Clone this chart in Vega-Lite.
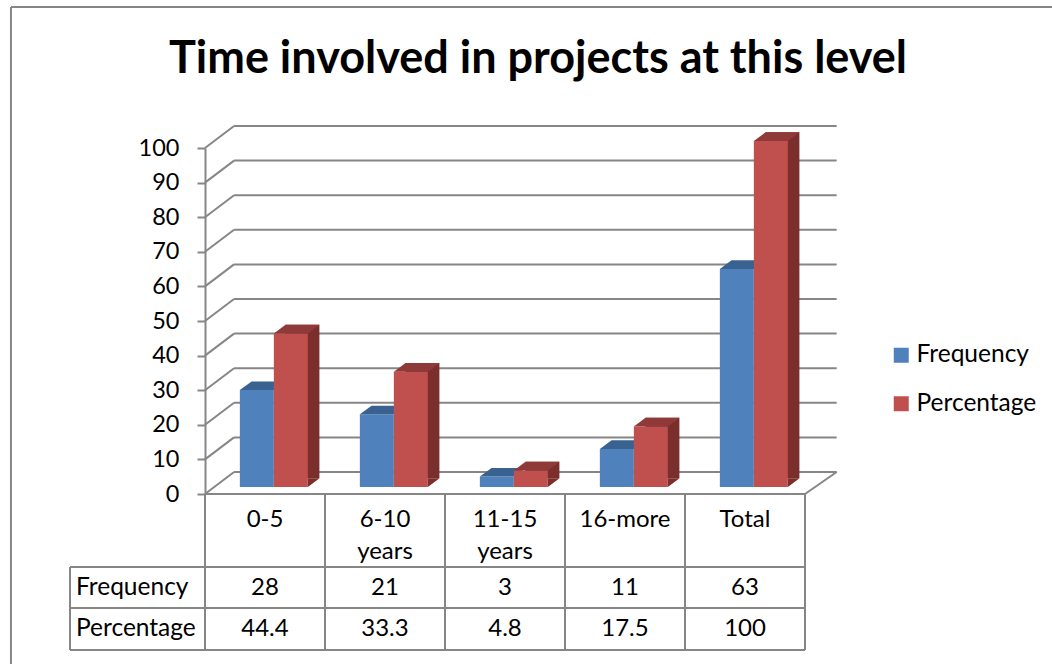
{
"$schema":"https://vega.github.io/schema/vega-lite/v6.json",
"width":600,"height":346,
"autosize":{"type":"none"},
"padding":{"left":205,"top":148,"right":247,"bottom":170},
"background":"white",
"config":{"view":{"stroke":null},"font":"Lato","text":{"font":"Lato"},
"axisY":{"tickCount":11,"grid":false,"domainColor":"#868686","domainWidth":2,"tickColor":"#868686","tickWidth":2,"tickSize":8,"labelFontSize":23.5,"labelColor":"#000000","labelPadding":18,"labelFont":"Lato","labelOverlap":false,"labelBound":false,"labelFlush":false}},
"title":{"text":"Time involved in projects at this level","font":"Lato","fontSize":45,"fontWeight":"bold","color":"#000000","anchor":"middle","frame":"group","dx":33,"offset":0,"dy":76},
"datasets":{
"chart":[
{"category":"0-5","series":"Frequency","value":28},
{"category":"0-5","series":"Percentage","value":44.4},
{"category":"6-10 years","series":"Frequency","value":21},
{"category":"6-10 years","series":"Percentage","value":33.3},
{"category":"11-15 years","series":"Frequency","value":3},
{"category":"11-15 years","series":"Percentage","value":4.8},
{"category":"16-more","series":"Frequency","value":11},
{"category":"16-more","series":"Percentage","value":17.5},
{"category":"Total","series":"Frequency","value":63},
{"category":"Total","series":"Percentage","value":100}
],
"ticks":[{"tick":0},{"tick":10},{"tick":20},{"tick":30},{"tick":40},{"tick":50},{"tick":60},{"tick":70},{"tick":80},{"tick":90},{"tick":100}],
"frame":[
{"x0":-1.617,"x1":7.1,"y0":140.75,"y1":140.75},
{"x0":-1.617,"x1":-1.617,"y0":140.75,"y1":-49.1},
{"x0":0,"x1":5,"y0":0,"y1":0},
{"x0":5,"x1":5.264,"y0":0,"y1":6.36},
{"x0":-1.125,"x1":5,"y0":-21.1,"y1":-21.1},
{"x0":-1.125,"x1":5,"y0":-32.95,"y1":-32.95},
{"x0":-1.125,"x1":5,"y0":-45.1,"y1":-45.1},
{"x0":-1.125,"x1":-1.125,"y0":-21.1,"y1":-45.1},
{"x0":0,"x1":0,"y0":0,"y1":-45.1},
{"x0":1,"x1":1,"y0":0,"y1":-45.1},
{"x0":2,"x1":2,"y0":0,"y1":-45.1},
{"x0":3,"x1":3,"y0":0,"y1":-45.1},
{"x0":4,"x1":4,"y0":0,"y1":-45.1},
{"x0":5,"x1":5,"y0":0,"y1":-45.1}
]
},
"resolve":{"scale":{"x":"independent"}},
"layer":[
{"layer":[
{"data":{"name":"ticks"},"mark":{"type":"rule","color":"#868686","strokeWidth":2,"yOffset":-22},
"encoding":{"x":{"datum":0.242,"type":"quantitative","scale":{"domain":[0,5],"nice":false,"zero":false},"axis":null},"x2":{"datum":5.264},"y":{"field":"tick","type":"quantitative","scale":{"domain":[0,100],"nice":false},"axis":{"title":null}}}},
{"data":{"name":"ticks"},"mark":{"type":"rule","color":"#868686","strokeWidth":2,"y2Offset":-22},
"encoding":{"x":{"datum":0,"type":"quantitative"},"x2":{"datum":0.242},"y":{"field":"tick","type":"quantitative"},"y2":{"field":"tick"}}},
{"data":{"name":"frame"},"mark":{"type":"rule","color":"#868686","strokeWidth":2},
"encoding":{"x":{"field":"x0","type":"quantitative"},"x2":{"field":"x1"},"y":{"field":"y0","type":"quantitative"},"y2":{"field":"y1"}}},
{"data":{"values":[{"row":"Frequency","level":-27.2},{"row":"Percentage","level":-38.9}]},"mark":{"type":"text","align":"left","baseline":"middle","fontSize":24.5,"color":"#000000"},
"encoding":{"x":{"datum":-1.075,"type":"quantitative"},"y":{"field":"level","type":"quantitative"},"text":{"field":"row"}}}
]},
{"data":{"name":"chart"},
"encoding":{
"x":{"field":"category","type":"nominal","sort":null,"scale":{"domain":["0-5","6-10 years","11-15 years","16-more","Total"],"paddingInner":0,"paddingOuter":0},"axis":null},
"y":{"field":"value","type":"quantitative"}
},
"layer":[
{"transform":[{"filter":"datum.series==='Frequency'"}],"mark":{"type":"bar","yOffset":-7,"y2Offset":-7},
"encoding":{"xOffset":{"field":"series","type":"nominal","scale":{"domain":["Frequency","Percentage"],"paddingInner":0,"paddingOuter":0.765,"align":0.67}},
"color":{"field":"series","type":"nominal","scale":{"domain":["Frequency","Percentage"],"range":["#4F81BD","#C0504D"]},"legend":{"title":null,"orient":"none","legendX":684,"legendY":195,"padding":0,"symbolType":"square","symbolSize":225,"symbolStrokeWidth":0,"labelFontSize":24.5,"labelFont":"Lato","labelColor":"#000000","labelOffset":3,"rowPadding":23.5}}}},
{"transform":[{"filter":"datum.series==='Frequency'"}],"mark":{"type":"point","filled":true,"opacity":1,"color":"#3A6291","strokeWidth":0,"shape":"M-17,0L-5.3,-8.7L28.7,-8.7L17,0Z","size":4,"yOffset":-7},
"encoding":{"xOffset":{"field":"series","type":"nominal"}}},
{"transform":[{"filter":"datum.series==='Percentage'"}],"mark":{"type":"bar","color":"#7B2F2D","width":34,"xOffset":37.4,"yOffset":-15.7,"y2Offset":-15.7}},
{"transform":[{"filter":"datum.series==='Percentage'"}],"mark":{"type":"point","filled":true,"opacity":1,"color":"#7B2F2D","strokeWidth":0,"shape":"M17,0L17,-8.7L28.7,-8.7Z","size":4,"yOffset":-7},"encoding":{"xOffset":{"field":"series","type":"nominal"},"y":{"datum":0,"type":"quantitative"}}},
{"transform":[{"filter":"datum.series==='Percentage'"}],"mark":{"type":"bar","yOffset":-7,"y2Offset":-7},
"encoding":{"xOffset":{"field":"series","type":"nominal"},"color":{"field":"series","type":"nominal"}}},
{"transform":[{"filter":"datum.series==='Percentage'"}],"mark":{"type":"point","filled":true,"opacity":1,"color":"#8F3A38","strokeWidth":0,"shape":"M-17,0L-5.3,-8.7L28.7,-8.7L17,0Z","size":4,"yOffset":-7},
"encoding":{"xOffset":{"field":"series","type":"nominal"}}},
{"transform":[{"filter":"datum.series==='Frequency'"}],"mark":{"type":"text","fontSize":24,"baseline":"middle","color":"#000000"},"encoding":{"y":{"datum":-27.2,"type":"quantitative"},"text":{"field":"value","type":"nominal"}}},
{"transform":[{"filter":"datum.series==='Percentage'"}],"mark":{"type":"text","fontSize":24,"baseline":"middle","color":"#000000"},"encoding":{"y":{"datum":-38.9,"type":"quantitative"},"text":{"field":"value","type":"nominal"}}},
{"transform":[{"filter":"datum.series==='Frequency'"}],"mark":{"type":"text","fontSize":24,"baseline":"alphabetic","lineBreak":" ","lineHeight":32,"color":"#000000"},"encoding":{"y":{"datum":-9.5,"type":"quantitative"},"text":{"field":"category","type":"nominal"}}}
]}
]
}
